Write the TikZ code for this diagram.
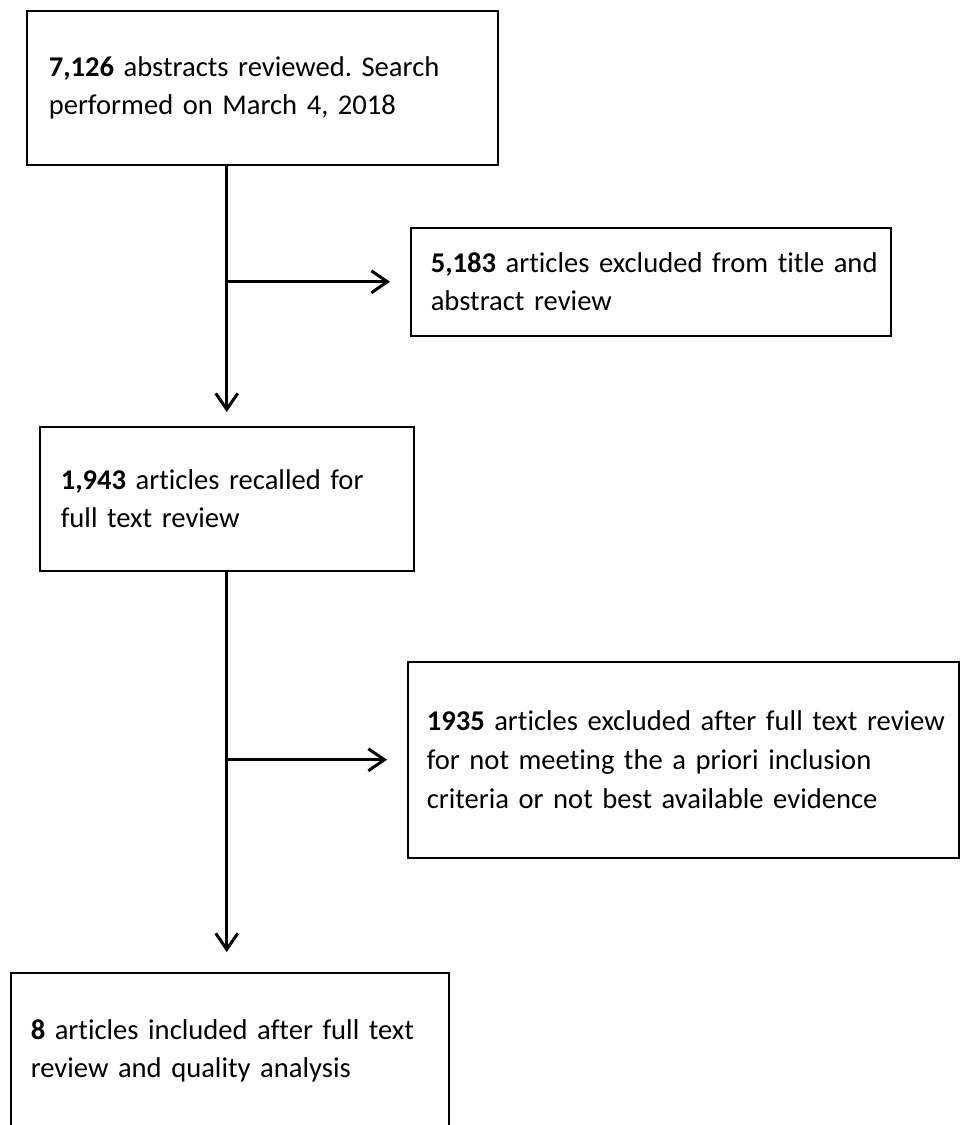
\documentclass[tikz,border=0pt]{standalone}
\usepackage{fontspec}
\setmainfont{Carlito}[Ligatures=NoCommon]
\usetikzlibrary{positioning,arrows.meta,calc}
\frenchspacing

\begin{document}
\begin{tikzpicture}[
    x=0.5pt, y=-0.5pt,
    every node/.style={font=\fontsize{14.3}{19.3}\selectfont},
    countbox/.style={draw=black, line width=0.75pt, anchor=north west, align=left, inner ysep=0pt},
    flow/.style={-{Straight Barb[length=8pt,width=11pt]}, line width=1.5pt}
  ]
    \useasboundingbox (0,0) rectangle (959,1125);

    \node[countbox, inner xsep=11pt, text width=213.5pt, minimum width=235.5pt, minimum height=77pt] (abstracts) at (26,10)
      {\textbf{7,126} abstracts reviewed. Search\\performed on March 4, 2018};
    \node[countbox, inner xsep=10pt, text width=220pt, minimum width=240pt, minimum height=54pt] (excl_title) at (410,227)
      {\mbox{\textbf{5,183} articles excluded from title and}\\abstract review};
    \node[countbox, inner xsep=10.5pt, text width=166pt, minimum width=187pt, minimum height=72pt] (recalled) at (39,426)
      {\textbf{1,943} articles recalled for\\full text review};
    \node[countbox, inner xsep=9.5pt, text width=256.5pt, minimum width=275.5pt, minimum height=98pt] (excl_full) at (407,661)
      {\mbox{\textbf{1935} articles excluded after full text review}\\for not meeting the a priori inclusion\\criteria or not best available evidence};
    \node[countbox, inner xsep=10pt, text width=199pt, minimum width=219pt, minimum height=78pt] (included) at (10,972)
      {\textbf{8} articles included after full text\\review and quality analysis};

    \draw[flow, shorten >=7pt] (abstracts.south -| recalled.north) -- (recalled.north);
    \draw[flow, shorten >=10pt] (excl_title.west -| recalled.north) -- (excl_title.west);
    \draw[flow, shorten >=10pt] (recalled.south) -- (included.north -| recalled.south);
    \draw[flow, shorten >=10pt] (excl_full.west -| recalled.south) -- (excl_full.west);
  \end{tikzpicture}
\end{document}
